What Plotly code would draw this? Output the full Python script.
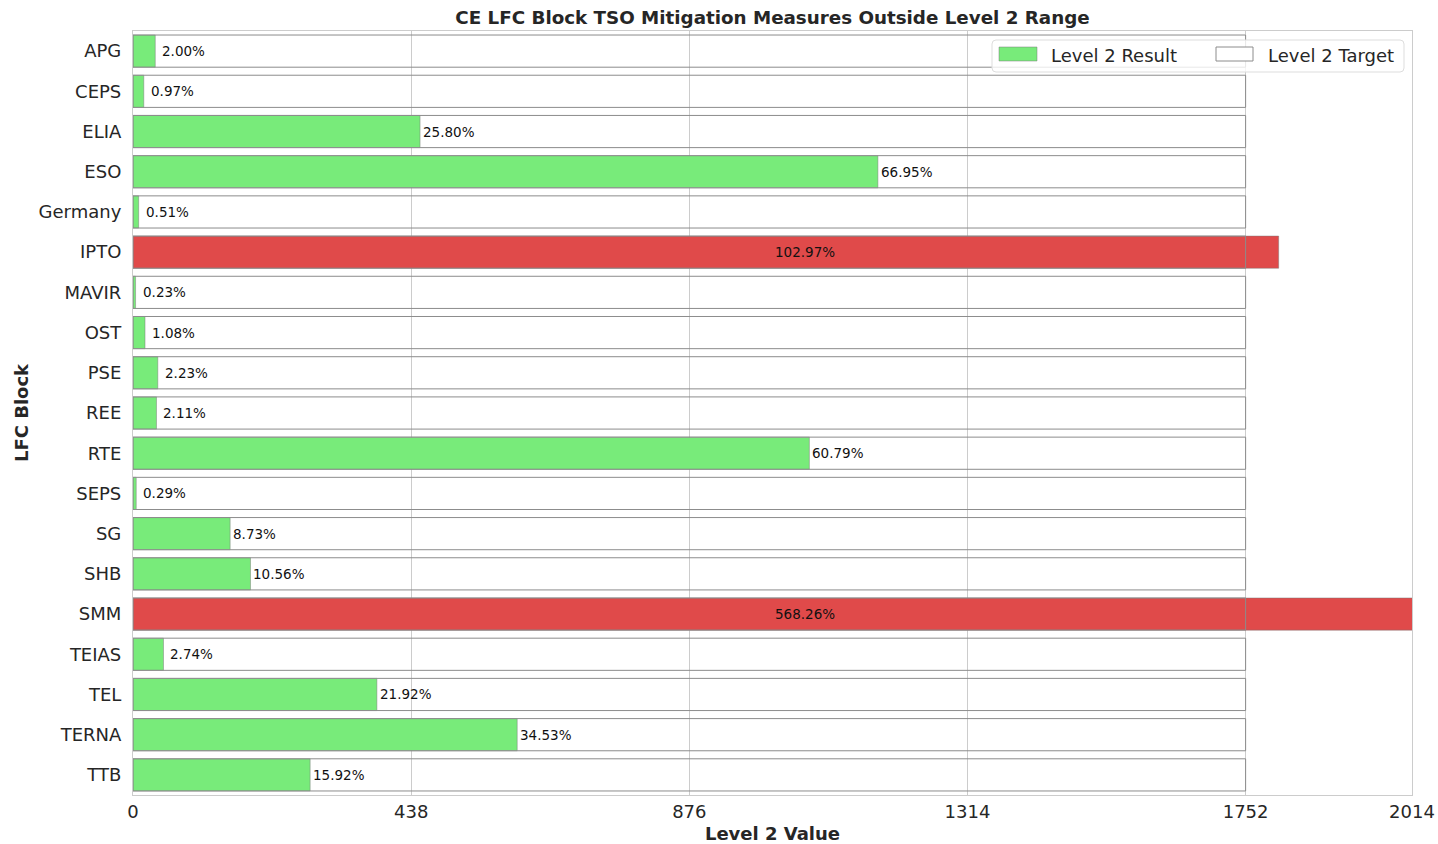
import plotly.graph_objects as go

blocks = ["APG", "CEPS", "ELIA", "ESO", "Germany", "IPTO", "MAVIR", "OST", "PSE", "REE",
          "RTE", "SEPS", "SG", "SHB", "SMM", "TEIAS", "TEL", "TERNA", "TTB"]
result_pct = [2.00, 0.97, 25.80, 66.95, 0.51, 102.97, 0.23, 1.08, 2.23, 2.11,
              60.79, 0.29, 8.73, 10.56, 568.26, 2.74, 21.92, 34.53, 15.92]
level2_target = 1752
x_max = 2014
x_ticks = [0, 438, 876, 1314, 1752, 2014]

result_vals = [p / 100 * level2_target for p in result_pct]
target_vals = [level2_target] * len(blocks)

GREEN = "#78EB7A"
RED = "#E04A4A"
colors = [RED if p > 100 else GREEN for p in result_pct]

FONT = "DejaVu Sans"
W, H = 1438, 844
L, R, T, B = 133, 26, 31, 49
PW, PH = W - L - R, H - T - B


def px(xp):
    return (xp - L) / PW


def py(yp):
    return (H - B - yp) / PH


fig = go.Figure()
fig.add_trace(go.Bar(
    y=blocks, x=result_vals, orientation="h", name="Level 2 Result",
    marker=dict(color=colors, line=dict(color="rgba(120,120,120,0.6)", width=0.8)),
    hoverinfo="x+y", showlegend=False,
))
fig.add_trace(go.Bar(
    y=blocks, x=target_vals, orientation="h", name="Level 2 Target",
    marker=dict(color="rgba(255,255,255,0)", line=dict(color="#8c8c8c", width=1)),
    hoverinfo="x+y", showlegend=False,
))

annotations = []
for b, v, p in zip(blocks, result_vals, result_pct):
    if p > 100:
        annotations.append(dict(x=x_max / 2, y=b, text=f"{p:.2f}%", showarrow=False,
                                xanchor="left", yanchor="middle",
                                font=dict(family=FONT, size=13.5, color="#111111")))
    else:
        shift = 5 if v < 150 else 1
        annotations.append(dict(x=v, y=b, text=f"{p:.2f}%", showarrow=False,
                                xanchor="left", yanchor="middle", xshift=shift,
                                font=dict(family=FONT, size=13.5, color="#111111")))

# Legend (drawn manually to match wide rectangular swatches)
bx0, bx1, by0, by1 = px(992), px(1404), py(72), py(40)
rx, ry = 4 / PW, 4 / PH
legend_path = (
    f"M {bx0 + rx} {by0} L {bx1 - rx} {by0} Q {bx1} {by0} {bx1} {by0 + ry} "
    f"L {bx1} {by1 - ry} Q {bx1} {by1} {bx1 - rx} {by1} "
    f"L {bx0 + rx} {by1} Q {bx0} {by1} {bx0} {by1 - ry} "
    f"L {bx0} {by0 + ry} Q {bx0} {by0} {bx0 + rx} {by0} Z"
)
shapes = []
shapes.append(dict(type="path", xref="paper", yref="paper", path=legend_path,
                   fillcolor="rgba(255,255,255,0.8)", line=dict(color="#dddddd", width=1), layer="above"))
shapes.append(dict(type="rect", xref="paper", yref="paper", x0=px(999), x1=px(1037),
                   y0=py(61), y1=py(47), fillcolor=GREEN,
                   line=dict(color="rgba(120,120,120,0.6)", width=0.8), layer="above"))
shapes.append(dict(type="rect", xref="paper", yref="paper", x0=px(1216), x1=px(1253),
                   y0=py(61), y1=py(47), fillcolor="white",
                   line=dict(color="#8c8c8c", width=1), layer="above"))
annotations.append(dict(xref="paper", yref="paper", x=px(1049), y=py(55), text="Level 2 Result",
                        showarrow=False, xanchor="left", yanchor="middle",
                        font=dict(family=FONT, size=18, color="#262626")))
annotations.append(dict(xref="paper", yref="paper", x=px(1266), y=py(55), text="Level 2 Target",
                        showarrow=False, xanchor="left", yanchor="middle",
                        font=dict(family=FONT, size=18, color="#262626")))

fig.update_layout(
    width=W, height=H,
    margin=dict(l=L, r=R, t=T, b=B, autoexpand=False),
    barmode="overlay", bargap=0.2,
    plot_bgcolor="white", paper_bgcolor="white",
    font=dict(family=FONT, color="#262626"),
    showlegend=False,
    title=dict(text="<b>CE LFC Block TSO Mitigation Measures Outside Level 2 Range</b>",
               x=(L + W - R) / 2 / W, xanchor="center", yref="container", y=1 - 18 / H,
               yanchor="middle", font=dict(family=FONT, size=18.3, color="#262626")),
    xaxis=dict(range=[0, x_max], tickvals=x_ticks, ticktext=[str(t) for t in x_ticks],
               showgrid=True, gridcolor="#cccccc", gridwidth=1, zeroline=False,
               showline=True, linecolor="#cccccc", linewidth=1.2, mirror=True,
               ticks="", automargin=False, tickfont=dict(family=FONT, size=18, color="#262626"),
               title=dict(text="<b>Level 2 Value</b>", standoff=8,
                          font=dict(family=FONT, size=18, color="#262626"))),
    yaxis=dict(type="category", categoryorder="array", categoryarray=blocks,
               range=[len(blocks) - 0.5, -0.5], showgrid=False, zeroline=False,
               showline=True, linecolor="#cccccc", linewidth=1.2, mirror=True,
               ticks="", ticklabelstandoff=7, automargin=False,
               tickfont=dict(family=FONT, size=18, color="#262626"),
               title=dict(text="<b>LFC Block</b>", standoff=5,
                          font=dict(family=FONT, size=18, color="#262626"))),
    annotations=annotations,
    shapes=shapes,
)

fig.write_html("out.html", config={"displayModeBar": False},
               post_script="document.body.style.margin='0';document.body.style.overflow='hidden';")
